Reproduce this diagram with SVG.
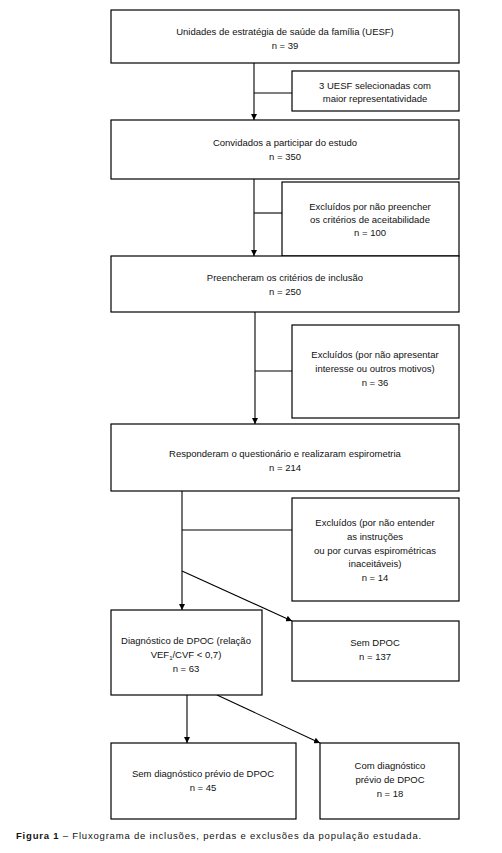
<svg xmlns="http://www.w3.org/2000/svg" width="502" height="853" viewBox="0 0 502 853">
<style>
.box{fill:#fff;stroke:#000;stroke-width:1.2}
.t{font-family:"Liberation Sans",Arial,sans-serif;font-size:9.5px;fill:#111;text-anchor:middle}
.c{stroke:#000;stroke-width:1.1;fill:none}
.cap{font-family:"Liberation Sans",Arial,sans-serif;font-size:9.5px;fill:#111;letter-spacing:0.8px}
</style>
<defs>
<marker id="ah" viewBox="0 0 8 8" refX="8" refY="4" markerWidth="6" markerHeight="6" markerUnits="userSpaceOnUse" orient="auto">
<path d="M0,0 L8,4 L0,8 Z" fill="#000"/>
</marker>
</defs>
<g id="connectors">
<line class="c" x1="254" y1="63" x2="254" y2="120" marker-end="url(#ah)"/>
<line class="c" x1="254" y1="93" x2="292" y2="93"/>
<line class="c" x1="254" y1="179" x2="254" y2="256" marker-end="url(#ah)"/>
<line class="c" x1="254" y1="213" x2="282" y2="213"/>
<line class="c" x1="255" y1="312" x2="255" y2="424" marker-end="url(#ah)"/>
<line class="c" x1="255" y1="371" x2="292" y2="371"/>
<line class="c" x1="182" y1="491" x2="182" y2="610" marker-end="url(#ah)"/>
<line class="c" x1="182" y1="530" x2="292" y2="530"/>
<line class="c" x1="182" y1="571" x2="292" y2="621" marker-end="url(#ah)"/>
<line class="c" x1="187" y1="695" x2="187" y2="743" marker-end="url(#ah)"/>
<line class="c" x1="217" y1="695" x2="320" y2="743" marker-end="url(#ah)"/>
</g>
<g id="n1"><rect class="box" x="111" y="10" width="348" height="53"/>
<text class="t" x="285" y="35">Unidades de estratégia de saúde da família (UESF)</text>
<text class="t" x="285" y="49">n = 39</text></g>
<g id="n2"><rect class="box" x="292" y="71" width="167" height="40"/>
<text class="t" x="375" y="89">3 UESF selecionadas com</text>
<text class="t" x="375" y="102">maior representatividade</text></g>
<g id="n3"><rect class="box" x="111" y="120" width="348" height="59"/>
<text class="t" x="285" y="146">Convidados a participar do estudo</text>
<text class="t" x="285" y="160">n = 350</text></g>
<g id="n4"><rect class="box" x="282" y="182" width="177" height="74"/>
<text class="t" x="370" y="210">Excluídos por não preencher</text>
<text class="t" x="370" y="223">os critérios de aceitabilidade</text>
<text class="t" x="370" y="236">n = 100</text></g>
<g id="n5"><rect class="box" x="111" y="256" width="348" height="56"/>
<text class="t" x="285" y="281">Preencheram os critérios de inclusão</text>
<text class="t" x="285" y="295">n = 250</text></g>
<g id="n6"><rect class="box" x="292" y="325" width="167" height="93"/>
<text class="t" x="375" y="358">Excluídos (por não apresentar</text>
<text class="t" x="375" y="372">interesse ou outros motivos)</text>
<text class="t" x="375" y="386">n = 36</text></g>
<g id="n7"><rect class="box" x="111" y="424" width="348" height="67"/>
<text class="t" x="285" y="457">Responderam o questionário e realizaram espirometria</text>
<text class="t" x="285" y="471">n = 214</text></g>
<g id="n8"><rect class="box" x="292" y="498" width="167" height="103"/>
<text class="t" x="375" y="526">Excluídos (por não entender</text>
<text class="t" x="375" y="540">as instruções</text>
<text class="t" x="375" y="554">ou por curvas espirométricas</text>
<text class="t" x="375" y="567">inaceitáveis)</text>
<text class="t" x="375" y="581">n = 14</text></g>
<g id="n9"><rect class="box" x="111" y="610" width="151" height="85"/>
<text class="t" x="186" y="644">Diagnóstico de DPOC (relação</text>
<text class="t" x="186" y="658">VEF<tspan font-size="6" dy="2">1</tspan><tspan dy="-2">/CVF &lt; 0,7)</tspan></text>
<text class="t" x="186" y="672">n = 63</text></g>
<g id="n10"><rect class="box" x="292" y="621" width="167" height="60"/>
<text class="t" x="375" y="646">Sem DPOC</text>
<text class="t" x="375" y="660">n = 137</text></g>
<g id="n11"><rect class="box" x="111" y="743" width="185" height="76"/>
<text class="t" x="203" y="777">Sem diagnóstico prévio de DPOC</text>
<text class="t" x="203" y="791">n = 45</text></g>
<g id="n12"><rect class="box" x="320" y="743" width="139" height="76"/>
<text class="t" x="390" y="769">Com diagnóstico</text>
<text class="t" x="390" y="783">prévio de DPOC</text>
<text class="t" x="390" y="797">n = 18</text></g>
<text class="cap" x="16" y="839"><tspan font-weight="bold">Figura 1</tspan> – Fluxograma de inclusões, perdas e exclusões da população estudada.</text>
</svg>
